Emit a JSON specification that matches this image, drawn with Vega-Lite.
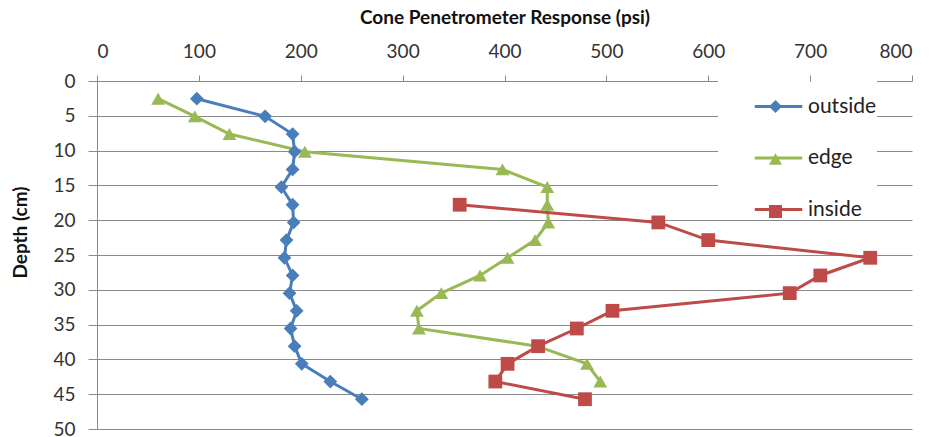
{
  "$schema": "https://vega.github.io/schema/vega-lite/v6.json",
  "width": 815,
  "height": 348,
  "autosize": {"type": "none"},
  "padding": {"left": 97, "top": 81, "right": 20, "bottom": 8},
  "background": "white",
  "config": {"view": {"stroke": null}, "font": "Lato"},
  "resolve": {"legend": {"color": "independent", "shape": "independent"}},
  "data": {"values": [
    {"series": "outside", "depth": 2.54, "psi": 98},
    {"series": "outside", "depth": 5.08, "psi": 165},
    {"series": "outside", "depth": 7.62, "psi": 192},
    {"series": "outside", "depth": 10.16, "psi": 194},
    {"series": "outside", "depth": 12.7, "psi": 192},
    {"series": "outside", "depth": 15.24, "psi": 181},
    {"series": "outside", "depth": 17.78, "psi": 192},
    {"series": "outside", "depth": 20.32, "psi": 193},
    {"series": "outside", "depth": 22.86, "psi": 186},
    {"series": "outside", "depth": 25.4, "psi": 184},
    {"series": "outside", "depth": 27.94, "psi": 192},
    {"series": "outside", "depth": 30.48, "psi": 189},
    {"series": "outside", "depth": 33.02, "psi": 196},
    {"series": "outside", "depth": 35.56, "psi": 190},
    {"series": "outside", "depth": 38.1, "psi": 194},
    {"series": "outside", "depth": 40.64, "psi": 201},
    {"series": "outside", "depth": 43.18, "psi": 229},
    {"series": "outside", "depth": 45.72, "psi": 260},
    {"series": "edge", "depth": 2.54, "psi": 60},
    {"series": "edge", "depth": 5.08, "psi": 96},
    {"series": "edge", "depth": 7.62, "psi": 130},
    {"series": "edge", "depth": 10.16, "psi": 204},
    {"series": "edge", "depth": 12.7, "psi": 398},
    {"series": "edge", "depth": 15.24, "psi": 442},
    {"series": "edge", "depth": 17.78, "psi": 442},
    {"series": "edge", "depth": 20.32, "psi": 443},
    {"series": "edge", "depth": 22.86, "psi": 430},
    {"series": "edge", "depth": 25.4, "psi": 403},
    {"series": "edge", "depth": 27.94, "psi": 376},
    {"series": "edge", "depth": 30.48, "psi": 338},
    {"series": "edge", "depth": 33.02, "psi": 314},
    {"series": "edge", "depth": 35.56, "psi": 316},
    {"series": "edge", "depth": 38.1, "psi": 432},
    {"series": "edge", "depth": 40.64, "psi": 481},
    {"series": "edge", "depth": 43.18, "psi": 494},
    {"series": "inside", "depth": 17.78, "psi": 356},
    {"series": "inside", "depth": 20.32, "psi": 551},
    {"series": "inside", "depth": 22.86, "psi": 600},
    {"series": "inside", "depth": 25.4, "psi": 759},
    {"series": "inside", "depth": 27.94, "psi": 710},
    {"series": "inside", "depth": 30.48, "psi": 680},
    {"series": "inside", "depth": 33.02, "psi": 506},
    {"series": "inside", "depth": 35.56, "psi": 471},
    {"series": "inside", "depth": 38.1, "psi": 433},
    {"series": "inside", "depth": 40.64, "psi": 403},
    {"series": "inside", "depth": 43.18, "psi": 391},
    {"series": "inside", "depth": 45.72, "psi": 479}
  ]},
  "encoding": {
    "x": {
      "field": "psi", "type": "quantitative",
      "scale": {"domain": [0, 800], "nice": false, "zero": false},
      "axis": {
        "orient": "top",
        "title": "Cone Penetrometer Response (psi)",
        "titleFontSize": 19, "titleFontWeight": "bold", "titleColor": "#111",
        "titleY": -64, "titleBaseline": "middle",
        "values": [0, 100, 200, 300, 400, 500, 600, 700, 800],
        "labelFontSize": 19, "labelColor": "#333", "labelPadding": 14,
        "tickSize": 6, "tickColor": "#8a8a8a",
        "domain": false, "grid": false, "zindex": 1
      }
    },
    "y": {
      "field": "depth", "type": "quantitative",
      "scale": {"domain": [0, 50], "nice": false, "reverse": true},
      "axis": {
        "title": "Depth (cm)",
        "titleFontSize": 19, "titleFontWeight": "bold", "titleColor": "#111",
        "titleX": -77, "titleY": 151, "titleAngle": 270, "titleBaseline": "middle", "titleAlign": "center",
        "values": [0, 5, 10, 15, 20, 25, 30, 35, 40, 45, 50],
        "labelFontSize": 19, "labelColor": "#333", "labelPadding": 13,
        "tickSize": 9, "tickColor": "#8a8a8a",
        "domainColor": "#8a8a8a", "grid": true, "gridColor": "#8a8a8a"
      }
    }
  },
  "layer": [
    {
      "mark": {"type": "line", "strokeWidth": 3},
      "encoding": {
        "order": {"field": "depth", "type": "quantitative"},
        "color": {
          "field": "series", "type": "nominal",
          "scale": {"domain": ["outside", "edge", "inside"], "range": ["#4A7EBB", "#98B954", "#BE4B48"]},
          "legend": {
            "title": null,
            "orient": "none", "legendX": 621, "legendY": 0,
            "padding": 0, "fillColor": "white", "strokeColor": null,
            "symbolType": "stroke", "symbolSize": 2256, "symbolStrokeWidth": 3,
            "symbolOffset": 35, "labelOffset": 4, "rowPadding": 15.5,
            "labelFontSize": 21, "labelColor": "#222",
            "labelExpr": "datum.label + '        '",
            "zindex": 0
          }
        }
      }
    },
    {
      "mark": {"type": "point", "filled": true, "opacity": 1, "size": 190},
      "encoding": {
        "color": {
          "field": "series", "type": "nominal",
          "scale": {"domain": ["outside", "edge", "inside"], "range": ["#4A7EBB", "#98B954", "#BE4B48"]},
          "legend": {
            "title": null,
            "orient": "none", "legendX": 621, "legendY": 15,
            "padding": 0, "fillColor": null, "strokeColor": null,
            "symbolSize": 170, "symbolStrokeWidth": 0,
            "symbolOffset": 47, "labelOffset": 4, "rowPadding": 30.5,
            "labelFontSize": 21, "labelOpacity": 0,
            "zindex": 1
          }
        },
        "shape": {
          "field": "series", "type": "nominal",
          "scale": {"domain": ["outside", "edge", "inside"], "range": ["diamond", "triangle-up", "square"]},
          "legend": {
            "title": null,
            "orient": "none", "legendX": 621, "legendY": 15,
            "padding": 0, "fillColor": null, "strokeColor": null,
            "symbolSize": 170, "symbolStrokeWidth": 0,
            "symbolOffset": 47, "labelOffset": 4, "rowPadding": 30.5,
            "labelFontSize": 21, "labelOpacity": 0,
            "zindex": 1
          }
        }
      }
    }
  ]
}
